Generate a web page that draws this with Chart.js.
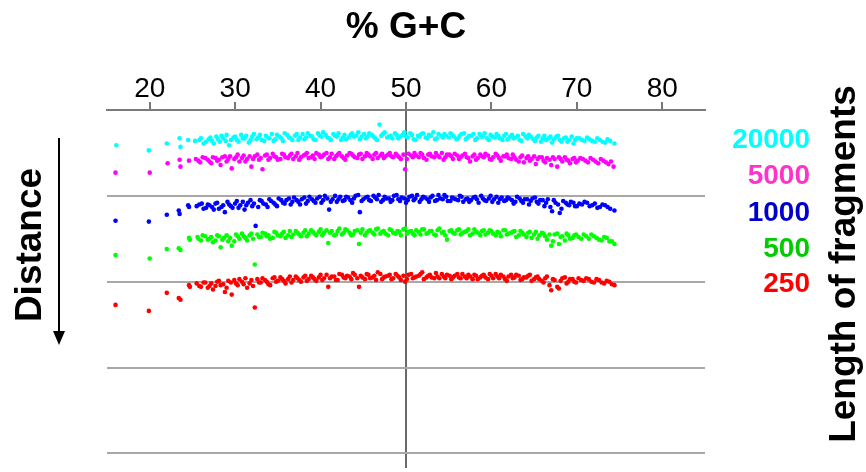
<!DOCTYPE html>
<html>
<head>
<meta charset="utf-8">
<script src="https://cdn.jsdelivr.net/npm/chart.js@4.4.1/dist/chart.umd.min.js"></script>
<style>
  html, body { margin: 0; padding: 0; background: #fff; }
  #wrap { width: 866px; height: 472px; }
</style>
</head>
<body>
<div id="wrap"><canvas id="gc" width="866" height="472"></canvas></div>
<script>
// ticks on the %G+C axis
var gcTicks = [20, 30, 40, 50, 60, 70, 80];
// fragment lengths (legend on the right) and their colours
var fragLengths = ['20000', '5000', '1000', '500', '250'];
var dotColors = ['#00FFFF', '#FF00FF', '#0000FF', '#00FF00', '#FF0000'];
var labelColors = ['#00FFFF', '#FF33CC', '#0000CC', '#00CC00', '#FF0000'];

// [%G+C, distance], one array per fragment length
var frag20000 = [
  [16.1,.41],[19.9,.47],[22.0,.39],[23.5,.33],[23.6,.43],[24.5,.35],
  [25.3,.36],[26.0,.33],[26.6,.37],[27.1,.32],[27.5,.39],[28.0,.34],[28.4,.30],[28.9,.36],[29.3,.41],[29.8,.32],
  [30.2,.35],[30.7,.29],[31.1,.33],[31.6,.38],[32.0,.31],[32.5,.34],[32.9,.29],[33.4,.36],[33.8,.32],[34.3,.28],
  [34.7,.34],[35.2,.31],[35.6,.36],[36.1,.29],[36.5,.33],[37.0,.30],[37.4,.35],[37.9,.28],[38.3,.32],[38.8,.30],
  [39.2,.34],[39.7,.27],[40.1,.31],[40.6,.29],[41.0,.33],[41.5,.28],[41.9,.31],[42.4,.35],[42.8,.29],[43.3,.32],
  [43.7,.27],[44.2,.30],[44.6,.34],[45.1,.28],[45.5,.31],[46.0,.29],[46.4,.33],[46.9,.17],[47.3,.28],[47.8,.32],
  [48.2,.30],[48.7,.27],[49.1,.33],[49.6,.29],[50.0,.31],[50.5,.27],[50.9,.34],[51.4,.30],[51.8,.28],[52.3,.32],
  [52.7,.29],[53.2,.26],[53.6,.33],[54.1,.30],[54.5,.28],[55.0,.32],[55.4,.29],[55.9,.34],[56.3,.30],[56.8,.27],
  [57.2,.32],[57.7,.30],[58.1,.35],[58.6,.28],[59.0,.31],[59.5,.33],[59.9,.29],[60.4,.32],[60.8,.30],[61.3,.35],
  [61.7,.28],[62.2,.31],[62.6,.33],[63.1,.30],[63.5,.36],[64.0,.31],[64.4,.29],[64.9,.34],[65.3,.32],[65.8,.37],
  [66.2,.30],[66.7,.33],[67.1,.38],[67.6,.31],[68.0,.35],[68.5,.33],[68.9,.37],[69.4,.31],[69.8,.35],[70.3,.33],
  [70.9,.36],[71.5,.34],[72.1,.37],[72.7,.35],[73.3,.38],[73.9,.36],[74.4,.39],
  [25.8,.35],[26.3,.39],[26.9,.34],[27.3,.36],[27.8,.31],[28.2,.37],[28.6,.33],[29.0,.29],[29.5,.35],[30.0,.31],
  [30.4,.37],[30.9,.33],[31.3,.30],[31.8,.35],[32.2,.28],[32.7,.32],[33.1,.35],[33.6,.30],[34.0,.33],[34.5,.36],
  [34.9,.29],[35.4,.33],[35.8,.27],[36.3,.32],[36.7,.35],[37.2,.28],[37.6,.32],[38.1,.34],[38.5,.27],[39.0,.31],
  [39.4,.35],[39.9,.30],[40.3,.26],[40.8,.32],[41.2,.35],[41.7,.30],[42.1,.27],[42.6,.32],[43.0,.34],[43.5,.29],
  [43.9,.31],[44.4,.26],[44.8,.31],[45.3,.33],[45.7,.27],[46.2,.31],[46.6,.35],[47.1,.30],[47.5,.26],[48.0,.31],
  [48.4,.33],[48.9,.29],[49.3,.31],[49.8,.26],[50.2,.32],[50.7,.29],[51.1,.35],[51.6,.31],[52.0,.27],[52.5,.33],
  [52.9,.30],[53.4,.34],[53.8,.28],[54.3,.32],[54.7,.30],[55.2,.27],[55.6,.31],[56.1,.33],[56.5,.28],[57.0,.34],
  [57.4,.30],[57.9,.28],[58.3,.33],[58.8,.31],[59.2,.27],[59.7,.35],[60.1,.31],[60.6,.28],[61.0,.33],[61.5,.30],
  [61.9,.34],[62.4,.29],[62.8,.32],[63.3,.35],[63.7,.28],[64.2,.33],[64.6,.31],[65.1,.36],[65.5,.30],[66.0,.33],
  [66.4,.35],[66.9,.31],[67.3,.34],[67.8,.30],[68.2,.37],[68.7,.32],[69.1,.35],[69.6,.39],[70.0,.33],[70.6,.35],
  [71.2,.32],[71.8,.36],[72.4,.33],[73.0,.37],[73.6,.34]
];
var frag5000 = [
  [16.0,.73],[20.0,.73],[22.1,.62],[23.5,.58],[23.6,.66],[24.6,.59],
  [25.4,.57],[25.9,.61],[26.5,.56],[27.0,.60],[27.4,.55],[27.9,.59],[28.3,.64],[28.8,.54],[29.2,.57],[29.6,.68],
  [30.1,.55],[30.5,.60],[31.0,.53],[31.4,.57],[31.9,.66],[32.3,.54],[32.8,.58],[33.2,.69],[33.7,.52],[34.1,.56],
  [34.6,.54],[35.0,.58],[35.5,.51],[35.9,.55],[36.4,.53],[36.8,.57],[37.3,.50],[37.7,.55],[38.2,.52],[38.6,.56],
  [39.1,.53],[39.5,.50],[40.0,.55],[40.4,.52],[40.9,.57],[41.3,.51],[41.8,.54],[42.2,.50],[42.7,.56],[43.1,.53],
  [43.6,.51],[44.0,.55],[44.5,.52],[44.9,.57],[45.4,.50],[45.8,.54],[46.3,.52],[46.7,.56],[47.2,.51],[47.6,.54],
  [48.1,.50],[48.5,.55],[49.0,.53],[49.4,.57],[49.9,.69],[50.3,.51],[50.8,.55],[51.2,.53],[51.7,.50],[52.1,.56],
  [52.6,.52],[53.0,.54],[53.5,.50],[53.9,.55],[54.4,.58],[54.8,.52],[55.3,.54],[55.7,.51],[56.2,.57],[56.6,.53],
  [57.1,.55],[57.5,.60],[58.0,.52],[58.4,.56],[58.9,.54],[59.3,.51],[59.8,.57],[60.2,.55],[60.7,.53],[61.1,.59],
  [61.6,.54],[62.0,.56],[62.5,.52],[62.9,.58],[63.4,.55],[63.8,.61],[64.3,.54],[64.7,.57],[65.2,.63],[65.6,.55],
  [66.1,.59],[66.5,.56],[67.0,.64],[67.4,.57],[67.9,.55],[68.3,.60],[68.8,.58],[69.2,.62],[69.7,.56],[70.1,.59],
  [70.7,.57],[71.3,.61],[71.9,.58],[72.5,.62],[73.1,.59],[73.7,.63],[74.3,.66],
  [25.7,.59],[26.2,.55],[26.8,.58],[27.2,.62],[27.7,.56],[28.1,.58],[28.5,.55],[29.0,.60],[29.4,.54],[29.9,.57],
  [30.3,.52],[30.8,.56],[31.2,.60],[31.7,.54],[32.1,.57],[32.6,.52],[33.0,.56],[33.5,.53],[33.9,.58],[34.4,.51],
  [34.8,.55],[35.3,.57],[35.7,.52],[36.2,.56],[36.6,.51],[37.1,.54],[37.5,.58],[38.0,.53],[38.4,.50],[38.9,.55],
  [39.3,.57],[39.8,.52],[40.2,.54],[40.7,.50],[41.1,.55],[41.6,.57],[42.0,.52],[42.5,.54],[42.9,.58],[43.4,.50],
  [43.8,.53],[44.3,.56],[44.7,.51],[45.2,.54],[45.6,.52],[46.1,.57],[46.5,.50],[47.0,.53],[47.4,.56],[47.9,.52],
  [48.3,.54],[48.8,.51],[49.2,.55],[49.7,.52],[50.1,.57],[50.6,.53],[51.0,.50],[51.5,.55],[51.9,.52],[52.4,.58],
  [52.8,.51],[53.3,.55],[53.7,.53],[54.2,.50],[54.6,.55],[55.1,.52],[55.5,.57],[56.0,.53],[56.4,.55],[56.9,.51],
  [57.3,.56],[57.8,.54],[58.2,.58],[58.7,.52],[59.1,.55],[59.6,.53],[60.0,.58],[60.5,.51],[60.9,.56],[61.4,.54],
  [61.8,.52],[62.3,.57],[62.7,.55],[63.2,.60],[63.6,.53],[64.1,.56],[64.5,.59],[65.0,.54],[65.4,.57],[65.9,.55],
  [66.3,.61],[66.8,.58],[67.2,.55],[67.7,.66],[68.1,.57],[68.6,.55],[69.0,.59],[69.5,.57],[69.9,.61],[70.4,.56],
  [71.0,.59],[71.6,.56],[72.2,.60],[72.8,.57],[73.4,.61],[74.0,.60]
];
var frag1000 = [
  [16.0,1.29],[19.9,1.30],[22.0,1.22],[23.4,1.17],[23.5,1.21],[24.5,1.11],[24.6,1.13],
  [25.5,1.12],[26.1,1.09],[26.6,1.14],[27.0,1.11],[27.5,1.16],[27.9,1.08],[28.4,1.13],[28.8,1.19],[29.3,1.10],
  [29.7,1.14],[30.2,1.06],[30.6,1.11],[31.1,1.16],[31.5,1.08],[32.0,1.12],[32.4,1.35],[32.9,1.05],[33.3,1.09],
  [33.8,1.13],[34.2,1.06],[34.7,1.10],[35.1,1.03],[35.6,1.08],[36.0,1.05],[36.5,1.10],[36.9,1.02],[37.4,1.07],
  [37.8,1.04],[38.3,1.09],[38.7,1.01],[39.2,1.06],[39.6,1.03],[40.1,1.08],[40.5,1.00],[41.0,1.16],[41.4,1.04],
  [41.9,1.07],[42.3,1.01],[42.8,1.05],[43.2,1.02],[43.7,1.08],[44.1,1.00],[44.6,1.19],[45.0,1.04],[45.5,1.01],
  [45.9,1.06],[46.4,1.02],[46.8,0.99],[47.3,1.05],[47.7,1.03],[48.2,1.07],[48.6,1.00],[49.1,1.04],[49.5,1.02],
  [50.0,1.08],[50.4,1.01],[50.9,1.05],[51.3,0.99],[51.8,1.04],[52.2,1.02],[52.7,1.07],[53.1,1.00],[53.6,1.05],
  [54.0,1.03],[54.5,0.99],[54.9,1.06],[55.4,1.02],[55.8,1.04],[56.3,1.00],[56.7,1.07],[57.2,1.03],[57.6,1.05],
  [58.1,1.01],[58.5,1.08],[59.0,1.03],[59.4,1.06],[59.9,1.00],[60.3,1.04],[60.8,1.08],[61.2,1.02],[61.7,1.05],
  [62.1,1.03],[62.6,1.09],[63.0,1.01],[63.5,1.06],[63.9,1.04],[64.4,1.10],[64.8,1.03],[65.3,1.07],[65.7,1.05],
  [66.2,1.12],[66.6,1.04],[67.1,1.18],[67.5,1.08],[68.0,1.20],[68.4,1.06],[68.9,1.10],[69.3,1.07],[69.8,1.12],
  [70.3,1.09],[70.9,1.07],[71.5,1.12],[72.1,1.09],[72.7,1.13],[73.3,1.11],[73.9,1.15],[74.4,1.17],
  [25.8,1.10],[26.3,1.15],[26.8,1.10],[27.3,1.13],[27.7,1.09],[28.1,1.15],[28.6,1.11],[29.1,1.07],[29.5,1.12],
  [30.0,1.09],[30.4,1.14],[30.9,1.07],[31.3,1.11],[31.8,1.05],[32.2,1.09],[32.7,1.13],[33.1,1.06],[33.6,1.10],
  [34.0,1.04],[34.5,1.08],[34.9,1.12],[35.4,1.05],[35.8,1.09],[36.3,1.03],[36.7,1.07],[37.2,1.05],[37.6,1.10],
  [38.1,1.02],[38.5,1.06],[39.0,1.04],[39.4,1.08],[39.9,1.01],[40.3,1.05],[40.8,1.03],[41.2,1.07],[41.7,1.00],
  [42.1,1.04],[42.6,1.06],[43.0,1.01],[43.5,1.05],[43.9,1.03],[44.4,0.99],[44.8,1.06],[45.3,1.02],[45.7,1.05],
  [46.2,1.00],[46.6,1.04],[47.1,1.07],[47.5,1.01],[48.0,1.03],[48.4,1.05],[48.9,0.99],[49.3,1.06],[49.8,1.03],
  [50.2,1.05],[50.7,1.00],[51.1,1.03],[51.6,1.07],[52.0,1.01],[52.5,1.04],[52.9,1.02],[53.4,1.06],[53.8,0.99],
  [54.3,1.04],[54.7,1.01],[55.2,1.06],[55.6,1.03],[56.1,1.05],[56.5,1.01],[57.0,1.04],[57.4,1.07],[57.9,1.02],
  [58.3,1.04],[58.8,1.00],[59.2,1.05],[59.7,1.03],[60.1,1.07],[60.6,1.01],[61.0,1.04],[61.5,1.06],[61.9,1.02],
  [62.4,1.05],[62.8,1.07],[63.3,1.03],[63.7,1.08],[64.2,1.04],[64.6,1.06],[65.1,1.02],[65.5,1.09],[66.0,1.05],
  [66.4,1.08],[66.9,1.13],[67.3,1.05],[67.8,1.10],[68.2,1.15],[68.7,1.08],[69.1,1.11],[69.6,1.08],[70.0,1.12],
  [70.6,1.10],[71.2,1.08],[71.8,1.11],[72.4,1.14],[73.0,1.10],[73.6,1.13]
];
var frag500 = [
  [16.0,1.69],[20.0,1.73],[22.0,1.62],[23.4,1.61],[23.6,1.63],[24.6,1.49],[24.7,1.51],
  [25.6,1.48],[26.0,1.52],[26.5,1.47],[27.0,1.50],[27.4,1.54],[27.9,1.46],[28.3,1.60],[28.7,1.49],[29.2,1.53],
  [29.6,1.58],[30.1,1.45],[30.5,1.50],[31.0,1.47],[31.4,1.52],[31.9,1.44],[32.3,1.80],[32.8,1.48],[33.2,1.43],
  [33.7,1.47],[34.1,1.50],[34.6,1.42],[35.0,1.46],[35.5,1.44],[35.9,1.49],[36.4,1.41],[36.8,1.45],[37.3,1.43],
  [37.7,1.47],[38.2,1.40],[38.6,1.44],[39.1,1.42],[39.5,1.46],[40.0,1.39],[40.4,1.43],[40.9,1.55],[41.3,1.41],
  [41.8,1.45],[42.2,1.38],[42.7,1.43],[43.1,1.40],[43.6,1.46],[44.0,1.41],[44.5,1.56],[44.9,1.39],[45.4,1.43],
  [45.8,1.40],[46.3,1.45],[46.7,1.38],[47.2,1.42],[47.6,1.44],[48.1,1.39],[48.5,1.43],[49.0,1.41],[49.4,1.46],
  [49.9,1.38],[50.3,1.42],[50.8,1.44],[51.2,1.40],[51.7,1.45],[52.1,1.39],[52.6,1.43],[53.0,1.41],[53.5,1.46],
  [53.9,1.38],[54.4,1.42],[54.8,1.51],[55.3,1.40],[55.7,1.44],[56.2,1.39],[56.6,1.43],[57.1,1.41],[57.5,1.46],
  [58.0,1.39],[58.4,1.43],[58.9,1.41],[59.3,1.45],[59.8,1.40],[60.2,1.44],[60.7,1.42],[61.1,1.47],[61.6,1.40],
  [62.0,1.44],[62.5,1.42],[62.9,1.48],[63.4,1.41],[63.8,1.45],[64.3,1.43],[64.7,1.49],[65.2,1.42],[65.6,1.46],
  [66.1,1.44],[66.5,1.51],[67.0,1.58],[67.4,1.45],[67.9,1.56],[68.3,1.47],[68.8,1.44],[69.2,1.50],[69.7,1.46],
  [70.2,1.48],[70.8,1.45],[71.4,1.50],[72.0,1.47],[72.6,1.51],[73.2,1.48],[73.8,1.53],[74.4,1.56],
  [25.7,1.50],[26.2,1.46],[26.8,1.51],[27.2,1.48],[27.7,1.52],[28.1,1.47],[28.5,1.51],[29.0,1.46],[29.4,1.49],
  [29.9,1.53],[30.3,1.47],[30.8,1.44],[31.2,1.49],[31.7,1.46],[32.1,1.50],[32.6,1.45],[33.0,1.48],[33.5,1.44],
  [33.9,1.46],[34.4,1.49],[34.8,1.43],[35.3,1.47],[35.7,1.42],[36.2,1.46],[36.6,1.48],[37.1,1.41],[37.5,1.45],
  [38.0,1.43],[38.4,1.47],[38.9,1.40],[39.3,1.44],[39.8,1.42],[40.2,1.46],[40.7,1.40],[41.1,1.43],[41.6,1.46],
  [42.0,1.41],[42.5,1.45],[42.9,1.39],[43.4,1.43],[43.8,1.45],[44.3,1.40],[44.7,1.43],[45.2,1.46],[45.6,1.41],
  [46.1,1.43],[46.5,1.39],[47.0,1.44],[47.4,1.41],[47.9,1.46],[48.3,1.40],[48.8,1.44],[49.2,1.42],[49.7,1.39],
  [50.1,1.44],[50.6,1.41],[51.0,1.46],[51.5,1.42],[51.9,1.39],[52.4,1.44],[52.8,1.41],[53.3,1.45],[53.7,1.40],
  [54.2,1.43],[54.6,1.46],[55.1,1.41],[55.5,1.43],[56.0,1.40],[56.4,1.45],[56.9,1.42],[57.3,1.39],[57.8,1.44],
  [58.2,1.42],[58.7,1.46],[59.1,1.40],[59.6,1.43],[60.0,1.41],[60.5,1.46],[60.9,1.43],[61.4,1.40],[61.8,1.45],
  [62.3,1.43],[62.7,1.41],[63.2,1.46],[63.6,1.43],[64.1,1.48],[64.5,1.42],[65.0,1.45],[65.4,1.50],[65.9,1.43],
  [66.3,1.47],[66.8,1.45],[67.2,1.53],[67.7,1.44],[68.1,1.48],[68.6,1.52],[69.0,1.46],[69.5,1.49],[69.9,1.45],
  [70.5,1.50],[71.1,1.47],[71.7,1.45],[72.3,1.49],[72.9,1.52],[73.5,1.49],[74.1,1.53]
];
var frag250 = [
  [16.0,2.27],[19.9,2.34],[22.0,2.13],[23.4,2.19],[23.6,2.21],[24.6,2.04],[24.7,2.06],
  [25.5,2.02],[26.0,2.06],[26.5,2.01],[27.0,2.05],[27.4,2.09],[27.9,2.00],[28.3,2.04],[28.8,2.12],[29.2,1.99],
  [29.6,2.15],[30.1,2.02],[30.5,1.97],[31.0,2.03],[31.4,2.07],[31.9,1.98],[32.3,2.30],[32.8,2.01],[33.2,1.96],
  [33.7,2.00],[34.1,2.04],[34.6,1.95],[35.0,1.99],[35.5,1.97],[35.9,2.02],[36.4,1.94],[36.8,1.98],[37.3,1.96],
  [37.7,2.00],[38.2,1.93],[38.6,1.97],[39.1,1.95],[39.5,1.99],[40.0,1.92],[40.4,1.96],[40.9,2.06],[41.3,1.94],
  [41.8,1.98],[42.2,1.91],[42.7,1.95],[43.1,1.93],[43.6,1.97],[44.0,1.92],[44.5,2.06],[44.9,1.95],[45.4,1.91],
  [45.8,1.96],[46.3,1.93],[46.7,1.89],[47.2,1.97],[47.6,1.94],[48.1,1.92],[48.5,1.96],[49.0,1.93],[49.4,1.98],
  [49.9,2.00],[50.3,1.92],[50.8,1.96],[51.2,1.94],[51.7,1.91],[52.1,1.97],[52.6,1.93],[53.0,1.95],[53.5,1.90],
  [53.9,1.96],[54.4,1.94],[54.8,1.92],[55.3,1.97],[55.7,1.93],[56.2,1.95],[56.6,1.91],[57.1,1.96],[57.5,1.94],
  [58.0,1.92],[58.4,1.97],[58.9,1.93],[59.3,1.95],[59.8,1.91],[60.2,1.96],[60.7,1.94],[61.1,1.92],[61.6,1.97],
  [62.0,1.94],[62.5,1.96],[62.9,1.92],[63.4,1.98],[63.8,1.95],[64.3,1.93],[64.7,1.99],[65.2,1.95],[65.6,1.97],
  [66.1,2.01],[66.5,1.94],[67.0,2.10],[67.4,1.98],[67.9,2.08],[68.3,1.96],[68.8,2.02],[69.2,1.97],[69.7,2.00],
  [70.2,1.96],[70.8,1.99],[71.4,1.97],[72.0,2.01],[72.6,1.98],[73.2,2.02],[73.8,2.00],[74.4,2.04],
  [25.8,2.05],[26.3,2.01],[26.8,2.07],[27.2,2.02],[27.7,2.05],[28.1,1.99],[28.6,2.03],[29.0,2.07],[29.5,2.01],
  [29.9,1.98],[30.3,2.04],[30.8,2.00],[31.2,1.96],[31.7,2.02],[32.1,2.05],[32.6,1.97],[33.0,2.01],[33.5,1.98],
  [33.9,2.03],[34.4,1.96],[34.8,2.00],[35.3,1.95],[35.7,1.99],[36.2,1.97],[36.6,2.01],[37.1,1.94],[37.5,1.98],
  [38.0,1.95],[38.4,1.99],[38.9,1.93],[39.3,1.97],[39.8,1.95],[40.2,1.98],[40.7,1.92],[41.1,1.96],[41.6,1.94],
  [42.0,1.98],[42.5,1.92],[42.9,1.96],[43.4,1.94],[43.8,1.90],[44.3,1.96],[44.7,1.93],[45.2,1.97],[45.6,1.92],
  [46.1,1.95],[46.5,1.98],[47.0,1.91],[47.4,1.95],[47.9,1.93],[48.3,1.97],[48.8,1.91],[49.2,1.95],[49.7,1.93],
  [50.1,1.97],[50.6,1.91],[51.0,1.95],[51.5,1.93],[51.9,1.89],[52.4,1.95],[52.8,1.92],[53.3,1.96],[53.7,1.94],
  [54.2,1.91],[54.6,1.96],[55.1,1.93],[55.5,1.95],[56.0,1.91],[56.4,1.96],[56.9,1.94],[57.3,1.92],[57.8,1.97],
  [58.2,1.93],[58.7,1.95],[59.1,1.92],[59.6,1.97],[60.0,1.93],[60.5,1.91],[60.9,1.96],[61.4,1.94],[61.8,1.99],
  [62.3,1.92],[62.7,1.95],[63.2,1.93],[63.6,1.97],[64.1,1.95],[64.5,1.92],[65.0,1.97],[65.4,1.94],[65.9,1.99],
  [66.3,1.96],[66.8,2.04],[67.2,1.97],[67.7,2.06],[68.1,1.99],[68.6,1.95],[69.0,2.00],[69.5,1.97],[69.9,2.01],
  [70.5,1.98],[71.1,1.96],[71.7,2.00],[72.3,1.97],[72.9,2.01],[73.5,1.99],[74.1,2.03]
];
var allFrags = [frag20000, frag5000, frag1000, frag500, frag250];

var FONT = "'Liberation Sans', Arial, Helvetica, sans-serif";

// texte y flecha alrededor del grafico
var decor = {
  id: 'decor',
  afterDraw: function (chart) {
    var ctx = chart.ctx;
    var y = chart.scales.y;
    ctx.save();
    // etiquetas de longitud a la derecha
    ctx.font = 'bold 28px ' + FONT;
    ctx.textAlign = 'right';
    ctx.textBaseline = 'middle';
    var labelPos = [0.34, 0.76, 1.19, 1.61, 2.02];
    fragLengths.forEach(function (t, i) {
      ctx.fillStyle = labelColors[i];
      ctx.fillText(t, 810, y.getPixelForValue(labelPos[i]) + 1);
    });
    // "Length of fragments"
    ctx.fillStyle = '#000';
    ctx.font = 'bold 37px ' + FONT;
    ctx.textAlign = 'center';
    ctx.save();
    ctx.translate(845, 264);
    ctx.rotate(-Math.PI / 2);
    ctx.fillText('Length of fragments', 0, 0);
    ctx.restore();
    // "Distance"
    ctx.save();
    ctx.translate(31, 245);
    ctx.rotate(-Math.PI / 2);
    ctx.fillText('Distance', 0, 0);
    ctx.restore();
    // flecha
    ctx.strokeStyle = '#000';
    ctx.lineWidth = 2;
    ctx.beginPath();
    ctx.moveTo(59, 138);
    ctx.lineTo(59, 334);
    ctx.stroke();
    ctx.beginPath();
    ctx.moveTo(53, 331);
    ctx.lineTo(65, 331);
    ctx.lineTo(59, 345);
    ctx.closePath();
    ctx.fill();
    ctx.restore();
  }
};

var datasets = allFrags.map(function (pts, i) {
  return {
    label: fragLengths[i],
    data: pts.map(function (p) { return { x: p[0], y: p[1] }; }),
    backgroundColor: dotColors[i],
    borderWidth: 0,
    pointRadius: 2.3
  };
});

new Chart(document.getElementById('gc'), {
  type: 'scatter',
  data: { datasets: datasets },
  options: {
    responsive: false,
    animation: false,
    devicePixelRatio: 1,
    layout: { padding: { left: 107, right: 161, top: 0, bottom: 0 } },
    plugins: { legend: { display: false }, tooltip: { enabled: false } },
    scales: {
      x: {
        type: 'linear',
        position: 'top',
        min: 15,
        max: 85,
        afterBuildTicks: function (s) { s.ticks = gcTicks.map(function (v) { return { value: v }; }); },
        afterFit: function (s) { s.height = 110; },
        grid: {
          color: function (c) { return c.tick && c.tick.value === 50 ? '#6a6a6a' : 'rgba(0,0,0,0)'; },
          lineWidth: 2,
          tickColor: '#777',
          tickLength: 8
        },
        border: { display: true, color: '#7a7a7a', width: 2 },
        ticks: { color: '#000', font: { family: FONT, size: 28 }, padding: -4, maxRotation: 0 },
        title: { display: true, text: '% G+C', color: '#000', font: { family: FONT, size: 37, weight: 'bold' }, padding: { top: 6, bottom: 0 } }
      },
      y: {
        type: 'linear',
        reverse: true,
        min: 0,
        max: 4.17,
        afterFit: function (s) { s.width = 0; },
        ticks: { display: false, stepSize: 1 },
        grid: {
          drawTicks: false,
          color: function (c) { return c.tick && Number.isInteger(c.tick.value) ? '#a8a8a8' : 'rgba(0,0,0,0)'; },
          lineWidth: 2
        },
        border: { display: false }
      }
    }
  },
  plugins: [decor]
});
</script>
</body>
</html>
